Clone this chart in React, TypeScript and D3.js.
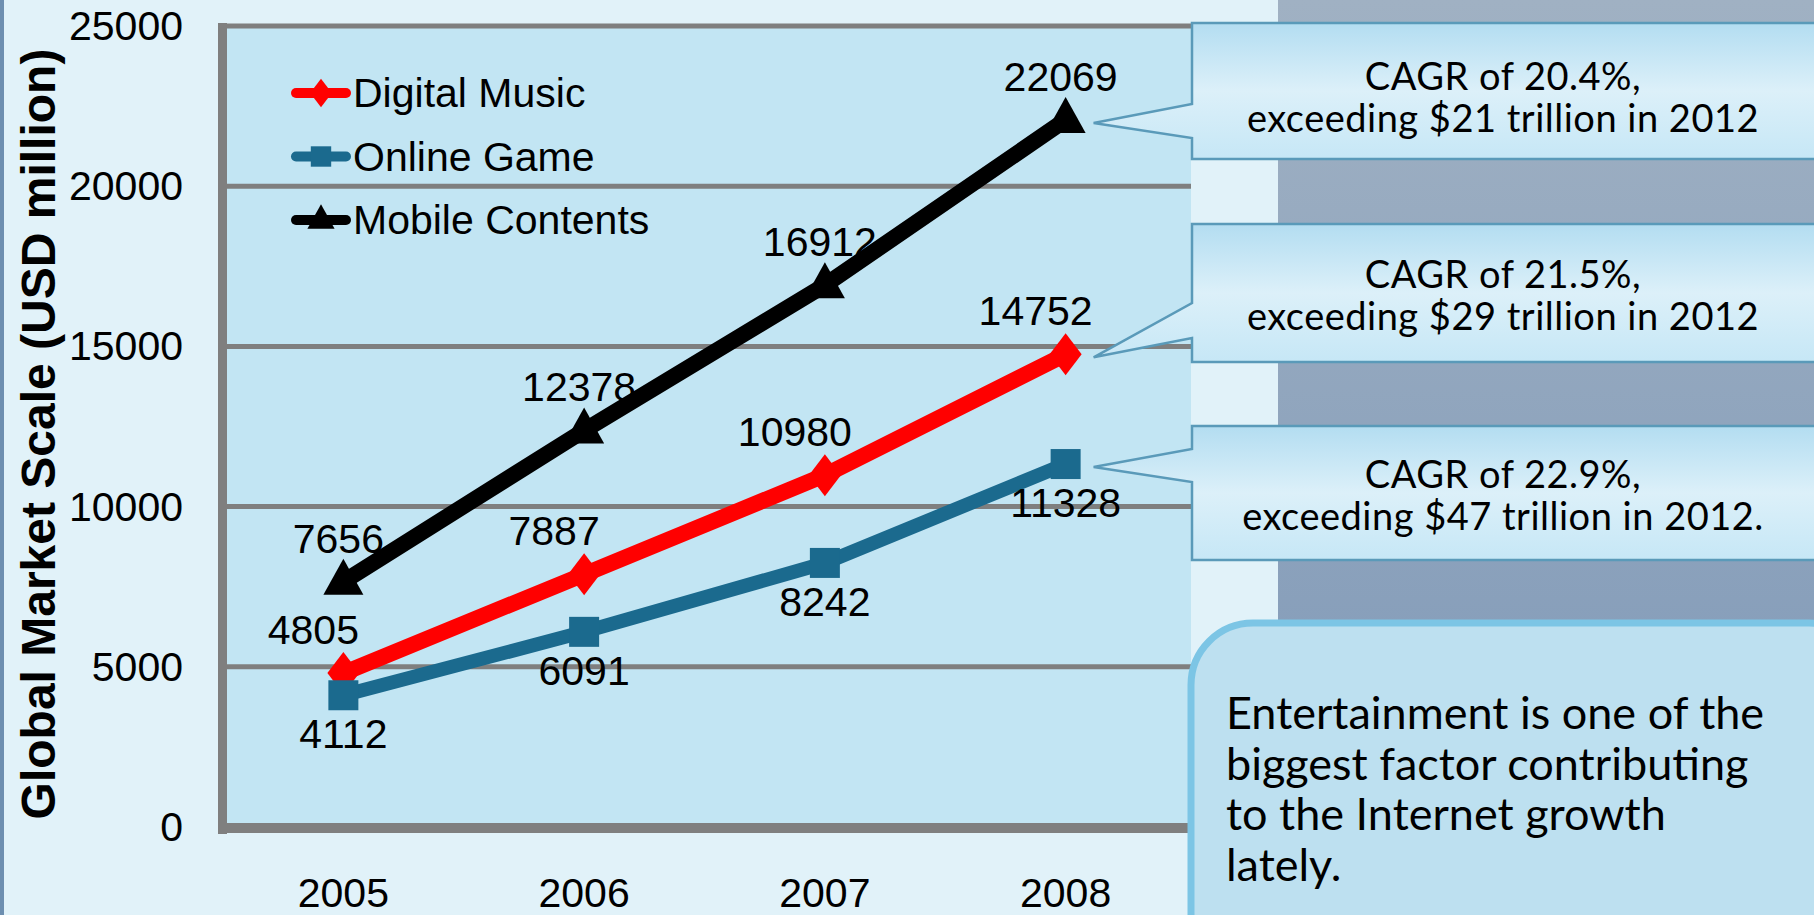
import React from "react";
import * as d3 from "d3";

const years = ["2005", "2006", "2007", "2008"];
const digitalMusic = [4805, 7887, 10980, 14752];
const onlineGame = [4112, 6091, 8242, 11328];
const mobileContents = [7656, 12378, 16912, 22069];
const yTicks = [0, 5000, 10000, 15000, 20000, 25000];
const seriesNames = ["Digital Music", "Online Game", "Mobile Contents"];
const cagrLines = [
  ["CAGR of 20.4%,", "exceeding $21 trillion in 2012"],
  ["CAGR of 21.5%,", "exceeding $29 trillion in 2012"],
  ["CAGR of 22.9%,", "exceeding $47 trillion in 2012."],
];
const noteLines = [
  "Entertainment is one of the",
  "biggest factor contributing",
  "to the Internet growth",
  "lately.",
];

const W = 1814;
const H = 915;
const AXIS_FONT = "'Liberation Sans', Arial, sans-serif";
const HAND_FONT = "'Comic Sans MS', Lato, sans-serif";

const diamondPath = "M0,-21L16,0L0,21L-16,0Z";
const squarePath = "M-15,-15L15,-15L15,15L-15,15Z";
const trianglePath = "M0,-23L20,13L-20,13Z";

export default function App() {
  const plotLeft = 223;
  const plotRight = 1191;
  const plotTop = 26;
  const plotBottom = 827;

  const x = d3.scalePoint<string>().domain(years).range([223, 1186]).padding(0.5);
  const y = d3.scaleLinear().domain([0, 25000]).range([plotBottom, plotTop]);

  const series = [
    { name: seriesNames[2], values: mobileContents, color: "#000000", width: 16, marker: trianglePath, dx: -5, dy: -43 },
    { name: seriesNames[0], values: digitalMusic, color: "#ff0000", width: 16, marker: diamondPath, dx: -30, dy: -43 },
    { name: seriesNames[1], values: onlineGame, color: "#1b6a8e", width: 14, marker: squarePath, dx: 0, dy: 39 },
  ];
  const legendOrder = [series[1], series[2], series[0]];

  const line = d3
    .line<number>()
    .x((_, i) => x(years[i]) as number)
    .y((v) => y(v));

  const boxes = [
    { top: 23, bottom: 159, j1: 104, j2: 138, value: mobileContents[3], shift: 4 },
    { top: 224, bottom: 362, j1: 303, j2: 338, value: digitalMusic[3], shift: 0 },
    { top: 426, bottom: 560, j1: 449, j2: 482, value: onlineGame[3], shift: 0 },
  ];
  const boxLeft = 1192;
  const boxRight = 1830;
  const x2008 = x("2008") as number;

  return (
    <svg
      width={W}
      height={H}
      viewBox={`0 0 ${W} ${H}`}
      style={{ position: "absolute", left: 0, top: 0 }}
    >
      <defs>
        <linearGradient id="grayBg" x1="0" y1="0" x2="0" y2="1">
          <stop offset="0" stopColor="#a0b1c3" />
          <stop offset="1" stopColor="#7d97b7" />
        </linearGradient>
        <linearGradient id="calloutFill" x1="0" y1="0" x2="0" y2="1">
          <stop offset="0" stopColor="#b3ddf1" />
          <stop offset="0.5" stopColor="#dcf0f9" />
          <stop offset="1" stopColor="#c6e7f6" />
        </linearGradient>
      </defs>

      <rect x={0} y={0} width={W} height={H} fill="#e1f2f9" />
      <rect x={1278} y={0} width={W - 1278} height={H} fill="url(#grayBg)" />
      <rect x={0} y={0} width={4} height={H} fill="#6d8fb0" />

      <rect x={plotLeft} y={plotTop} width={plotRight - plotLeft} height={plotBottom - plotTop} fill="#c2e5f3" />
      {yTicks.filter((t) => t > 0).map((t) => (
        <line key={t} x1={plotLeft} x2={plotRight} y1={y(t)} y2={y(t)} stroke="#7f7f7f" strokeWidth={5} />
      ))}
      <rect x={218} y={plotTop - 3} width={9} height={plotBottom - plotTop + 10} fill="#7f7f7f" />
      <rect x={218} y={plotBottom - 4} width={plotRight - 218} height={10} fill="#7f7f7f" />

      {yTicks.map((t) => (
        <text
          key={t}
          x={183}
          y={y(t)}
          textAnchor="end"
          dominantBaseline="central"
          fontFamily={AXIS_FONT}
          fontSize={41}
          fill="#000"
        >
          {t}
        </text>
      ))}

      {years.map((yr) => (
        <text
          key={yr}
          x={x(yr) as number}
          y={893}
          textAnchor="middle"
          dominantBaseline="central"
          fontFamily={AXIS_FONT}
          fontSize={41}
          fill="#000"
        >
          {yr}
        </text>
      ))}

      <text
        transform={`translate(38, 434) rotate(-90)`}
        textAnchor="middle"
        dominantBaseline="central"
        fontFamily={AXIS_FONT}
        fontWeight="bold"
        fontSize={48}
        fill="#000"
      >
        Global Market Scale (USD million)
      </text>

      {series.map((s) => (
        <path
          key={s.name}
          d={line(s.values) as string}
          fill="none"
          stroke={s.color}
          strokeWidth={s.width}
          strokeLinejoin="round"
        />
      ))}
      {series.map((s) =>
        s.values.map((v, i) => (
          <path
            key={s.name + i}
            d={s.marker}
            transform={`translate(${x(years[i])}, ${y(v)})`}
            fill={s.color}
          />
        ))
      )}

      {series.map((s) =>
        s.values.map((v, i) => (
          <text
            key={"l" + s.name + i}
            x={(x(years[i]) as number) + s.dx}
            y={y(v) + s.dy}
            textAnchor="middle"
            dominantBaseline="central"
            fontFamily={AXIS_FONT}
            fontSize={41}
            fill="#000"
          >
            {v}
          </text>
        ))
      )}

      {legendOrder.map((s, i) => {
        const ly = 93 + i * 63.5;
        return (
          <g key={"lg" + s.name}>
            <line x1={296} x2={346} y1={ly} y2={ly} stroke={s.color} strokeWidth={10} strokeLinecap="round" />
            <path d={s.marker} transform={`translate(321, ${ly}) scale(0.68)`} fill={s.color} />
            <text
              x={353}
              y={ly}
              dominantBaseline="central"
              fontFamily={AXIS_FONT}
              fontSize={41}
              fill="#000"
            >
              {s.name}
            </text>
          </g>
        );
      })}

      {boxes.map((b, i) => {
        const tipX = x2008 + 28;
        const tipY = y(b.value) + 3;
        const d = `M${boxLeft},${b.top}L${boxRight},${b.top}L${boxRight},${b.bottom}L${boxLeft},${b.bottom}L${boxLeft},${b.j2}L${tipX},${tipY}L${boxLeft},${b.j1}Z`;
        const cx = (boxLeft + W) / 2;
        const mid = (b.top + b.bottom) / 2 + b.shift;
        return (
          <g key={"co" + i}>
            <path d={d} fill="url(#calloutFill)" stroke="#5a9ab9" strokeWidth={2.5} />
            <text
              x={cx}
              y={mid - 20}
              textAnchor="middle"
              dominantBaseline="central"
              fontFamily={HAND_FONT}
              fontSize={38}
              letterSpacing={0.5}
              fill="#000"
            >
              {cagrLines[i][0]}
            </text>
            <text
              x={cx}
              y={mid + 22}
              textAnchor="middle"
              dominantBaseline="central"
              fontFamily={HAND_FONT}
              fontSize={38}
              letterSpacing={0.5}
              fill="#000"
            >
              {cagrLines[i][1]}
            </text>
          </g>
        );
      })}

      <rect
        x={1191}
        y={623}
        width={680}
        height={400}
        rx={62}
        ry={62}
        fill="#bde0f0"
        stroke="#7cc5e5"
        strokeWidth={7}
      />
      {noteLines.map((t, i) => (
        <text
          key={"n" + i}
          x={1226}
          y={729 + i * 50.5}
          fontFamily={HAND_FONT}
          fontSize={45}
          fill="#000"
        >
          {t}
        </text>
      ))}
    </svg>
  );
}
